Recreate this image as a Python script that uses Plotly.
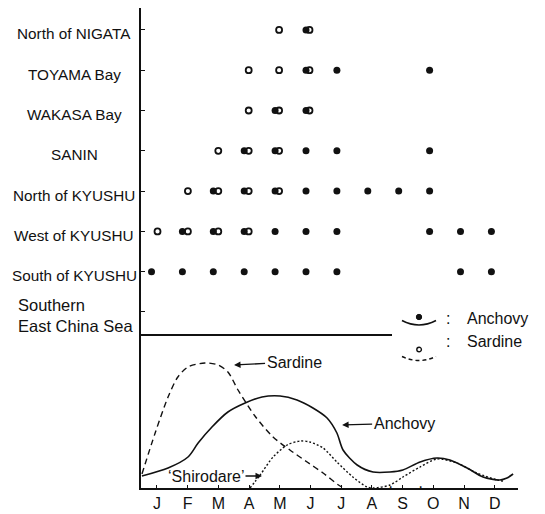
import plotly.graph_objects as go

# ---------------- data ----------------
regions = ["North of NIGATA", "TOYAMA Bay", "WAKASA Bay", "SANIN",
           "North of KYUSHU", "West of KYUSHU", "South of KYUSHU",
           "Southern<br>East China Sea"]
region_rank = [7, 6, 5, 4, 3, 2, 1, 0]          # row order, top to bottom

# months (1 = Jan) in which eggs/larvae were recorded
anchovy_months = [[6], [6, 7, 10], [5, 6], [4, 5, 6, 7, 10],
                  [3, 4, 5, 6, 7, 8, 9, 10],
                  [2, 3, 4, 5, 6, 7, 10, 11, 12],
                  [1, 2, 3, 4, 5, 6, 7, 11, 12], []]
sardine_months = [[5, 6], [4, 5, 6], [4, 5, 6], [3, 4, 5],
                  [2, 3, 4, 5], [1, 2, 3, 4], [], []]

month_labels = ["J", "F", "M", "A", "M", "J", "J", "A", "S", "O", "N", "D"]
month_vals = list(range(1, 13))

# relative abundance curves (month, relative value)
anchovy_x = [0.51, 1.36, 2.01, 2.34, 2.79, 3.31, 3.87, 4.42, 5.01, 5.56, 6.08,
             6.54, 6.86, 7.06, 7.52, 8.04, 8.59, 9.01, 9.57, 10.12, 10.54,
             11.10, 11.62, 12.17, 12.40, 12.60]
anchovy_y = [9.6, 16, 24.8, 36, 48.8, 60.8, 68, 72.8, 73.6, 70.4, 64,
             56, 44, 30.4, 18.4, 12.8, 12.8, 14.4, 20.8, 24, 22.4,
             16, 8.8, 6.4, 8, 11.2]

sardine_x = [0.51, 0.94, 1.36, 1.68, 2.01, 2.56, 2.99, 3.31, 3.64, 4.19,
             4.78, 5.33, 5.89, 6.41, 6.96, 7.12]
sardine_y = [11.2, 44, 72.8, 88.8, 96.8, 100, 98.4, 92.8, 78.4, 57.6,
             40.8, 30.4, 20.8, 12, 1.6, 0]

shirodare_x = [4.03, 4.36, 4.78, 5.24, 5.66, 5.98, 6.41, 6.86, 7.38, 7.84,
               8.04, 8.59, 9.01, 9.57, 10.12, 10.77, 11.42, 12.08, 12.27]
shirodare_y = [0, 10.4, 24.8, 34.4, 37.6, 36.8, 32, 20.8, 8.8, 0.8,
               0, 2.4, 8.8, 16.8, 23.2, 20, 12, 6.4, 5.6]

# ---------------- helpers (layout positions in pixels) ----------------
W, H = 545, 514
def fx(x):
    return x / W
def fy(y):
    return 1 - y / H

FONT = "Liberation Sans, Arial, sans-serif"
INK = "#111111"

# ---------------- traces ----------------
ax_x, ax_y, sd_x, sd_y = [], [], [], []
for rank, am, sm in zip(region_rank, anchovy_months, sardine_months):
    ax_x += am
    ax_y += [rank] * len(am)
    sd_x += sm
    sd_y += [rank] * len(sm)

fig = go.Figure()
fig.add_trace(go.Scatter(x=ax_x, y=ax_y, mode="markers", xaxis="x2", yaxis="y2",
                         marker=dict(symbol="circle", size=7, color=INK),
                         hoverinfo="skip"))
fig.add_trace(go.Scatter(x=sd_x, y=sd_y, mode="markers", xaxis="x3", yaxis="y2",
                         marker=dict(symbol="circle-open", size=6,
                                     color=INK, line=dict(width=1.8, color=INK)),
                         hoverinfo="skip"))

fig.add_trace(go.Scatter(x=anchovy_x, y=anchovy_y, mode="lines",
                         line=dict(color=INK, width=1.6, shape="spline", smoothing=0.8)))
fig.add_trace(go.Scatter(x=sardine_x, y=sardine_y, mode="lines",
                         line=dict(color=INK, width=1.4, shape="spline", smoothing=0.8,
                                   dash="6px,4px")))
fig.add_trace(go.Scatter(x=shirodare_x, y=shirodare_y, mode="lines",
                         line=dict(color=INK, width=1.4, shape="spline", smoothing=0.8,
                                   dash="2px,2px")))

dom_x = [fx(141), fx(518)]

fig.update_layout(
    width=W, height=H, margin=dict(l=0, r=0, t=0, b=0),
    paper_bgcolor="white", plot_bgcolor="white", showlegend=False,
    font=dict(family=FONT, color=INK),
    xaxis=dict(domain=dom_x, anchor="y", range=[0.479, 12.759],
               showline=True, linecolor=INK, linewidth=1.6,
               ticks="inside", ticklen=3, tickwidth=1.2, tickcolor=INK,
               tickvals=month_vals, ticktext=month_labels,
               tickfont=dict(size=16, family=FONT, color=INK),
               showgrid=False, zeroline=False),
    yaxis=dict(domain=[fy(488), fy(335)], anchor="x", range=[0, 122.4],
               showline=True, linecolor=INK, linewidth=1.6,
               showticklabels=False, ticks="", showgrid=False, zeroline=False),
    xaxis2=dict(domain=dom_x, anchor="y2", range=[0.660, 12.861], visible=False),
    xaxis3=dict(domain=dom_x, anchor="y2", overlaying="x2",
                range=[0.457, 12.859], visible=False),
    yaxis2=dict(domain=[fy(335), fy(8)], anchor="x2", range=[-0.571, 7.543],
                showline=True, linecolor=INK, linewidth=1.6,
                ticks="inside", ticklen=4, tickwidth=1.2, tickcolor=INK,
                tickvals=region_rank, showticklabels=False,
                showgrid=False, zeroline=False),
)

# separator line between the two panels
shapes = [dict(type="line", xref="paper", yref="paper",
               x0=fx(141), x1=fx(392), y0=fy(335), y1=fy(335),
               line=dict(color=INK, width=1.8))]

# legend glyphs
def arc(x0, x1, ytop, ybot):
    xc = (x0 + x1) / 2
    yc = 2 * ybot - ytop
    return f"M {fx(x0)},{fy(ytop)} Q {fx(xc)},{fy(yc)} {fx(x1)},{fy(ytop)}"

shapes.append(dict(type="path", xref="paper", yref="paper",
                   path=arc(402, 436, 320.5, 325),
                   line=dict(color=INK, width=1.6)))
shapes.append(dict(type="path", xref="paper", yref="paper",
                   path=arc(402, 436, 356.5, 360.5),
                   line=dict(color=INK, width=1.4, dash="4px,3px")))
shapes.append(dict(type="circle", xref="paper", yref="paper",
                   x0=fx(416.3), x1=fx(421.7), y0=fy(314.3), y1=fy(319.7),
                   fillcolor=INK, line=dict(color=INK, width=1)))
shapes.append(dict(type="circle", xref="paper", yref="paper",
                   x0=fx(416.8), x1=fx(421.4), y0=fy(347.2), y1=fy(351.8),
                   fillcolor="white", line=dict(color=INK, width=1.4)))
fig.update_layout(shapes=shapes)

annotations = []
# region labels (centred in the left margin, as in the original)
for rank, name in zip(region_rank, regions):
    if rank == 0:
        annotations.append(dict(xref="paper", yref="y2", x=fx(16), y=rank,
                                yshift=-4, xanchor="left", yanchor="middle",
                                align="left", showarrow=False, text=name,
                                font=dict(size=16.5, family=FONT, color=INK)))
    else:
        annotations.append(dict(xref="paper", yref="y2", x=fx(74), y=rank,
                                yshift=-4, xanchor="center", yanchor="middle",
                                showarrow=False, text=name,
                                font=dict(size=15.3, family=FONT, color=INK)))

annotations += [
    dict(xref="paper", yref="paper", x=fx(452), y=fy(318), showarrow=False,
         text=":", font=dict(size=16, family=FONT, color=INK)),
    dict(xref="paper", yref="paper", x=fx(452), y=fy(352), showarrow=False,
         text=":", font=dict(size=16, family=FONT, color=INK)),
    dict(xref="paper", yref="paper", x=fx(465), y=fy(318), xanchor="left",
         showarrow=False, text="Anchovy", font=dict(size=16, family=FONT, color=INK)),
    dict(xref="paper", yref="paper", x=fx(465), y=fy(352), xanchor="left",
         showarrow=False, text="Sardine", font=dict(size=16, family=FONT, color=INK)),
    # curve labels
    dict(xref="x", yref="y", x=7.03, y=50.4, ax=62, ay=-2, text="Anchovy",
         showarrow=True, arrowhead=2, arrowsize=1, arrowwidth=1.3, arrowcolor=INK,
         font=dict(size=16, family=FONT, color=INK)),
    dict(xref="x", yref="y", x=3.51, y=98.4, ax=60, ay=-3, text="Sardine",
         showarrow=True, arrowhead=2, arrowsize=1, arrowwidth=1.3, arrowcolor=INK,
         font=dict(size=16, family=FONT, color=INK)),
    dict(xref="x", yref="y", x=4.42, y=9.6, ax=-56, ay=0, text="‘Shirodare’",
         showarrow=True, arrowhead=2, arrowsize=1, arrowwidth=1.3, arrowcolor=INK,
         font=dict(size=16, family=FONT, color=INK)),
    # separating dots in the month row
    dict(xref="x", yref="paper", x=8.59, y=fy(497), showarrow=False, text="·",
         font=dict(size=16, family=FONT, color=INK)),
    dict(xref="x", yref="paper", x=9.57, y=fy(497), showarrow=False, text="·",
         font=dict(size=16, family=FONT, color=INK)),
]
fig.update_layout(annotations=annotations)

fig.write_html("out.html")
